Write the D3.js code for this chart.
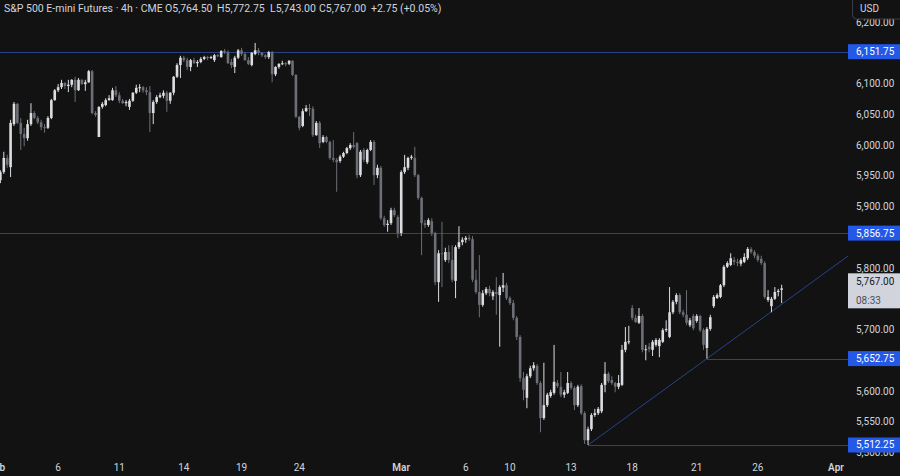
<!DOCTYPE html>
<html><head><meta charset="utf-8">
<script src="https://cdn.jsdelivr.net/npm/d3@7"></script>
<style>html,body{margin:0;padding:0;background:#121212;overflow:hidden}</style>
</head><body><svg id="c" width="900" height="476"></svg>
<script>
// ---- data (4h bars, S&P 500 E-mini futures) ----
const opens=[5938,5943,5956,5979,5964,6034,6067,6036,6018,6011,6034,6052,6044,6037,6029,6028,6044,6073,6089,6094,6101,6096,6098,6106,6089,6106,6099,6102,6120,6052,6013,6062,6065,6073,6073,6089,6081,6072,6068,6062,6072,6085,6093,6094,6089,6086,6052,6070,6078,6080,6085,6072,6085,6111,6130,6142,6138,6127,6138,6133,6135,6140,6143,6142,6138,6146,6143,6153,6151,6135,6127,6142,6154,6148,6138,6130,6148,6154,6150,6146,6143,6151,6115,6127,6132,6133,6132,6137,6114,6046,6031,6055,6060,6059,6016,6036,6005,6013,6005,5979,5976,5974,5981,5987,5995,6000,6003,5951,5992,5972,5992,6005,5951,5963,5881,5870,5873,5894,5883,5857,5956,5963,5979,5979,5951,5914,5873,5870,5876,5857,5777,5824,5813,5826,5813,5779,5834,5842,5846,5849,5847,5781,5761,5740,5759,5766,5754,5761,5756,5768,5772,5751,5743,5719,5688,5621,5589,5624,5637,5641,5613,5556,5577,5592,5597,5613,5607,5594,5597,5613,5605,5577,5608,5564,5520,5538,5561,5564,5567,5610,5628,5618,5613,5607,5610,5667,5680,5735,5719,5711,5722,5667,5672,5667,5675,5673,5680,5699,5688,5728,5745,5756,5728,5724,5707,5722,5714,5722,5699,5670,5701,5738,5751,5753,5772,5802,5805,5813,5810,5807,5810,5816,5831,5826,5820,5815,5808,5748,5738,5750,5761,5764.5];
const highs=[5951,5959,5989,5984,6041,6070,6068,6044,6028,6041,6068,6055,6047,6041,6034,6047,6075,6091,6099,6106,6102,6106,6107,6111,6109,6107,6106,6122,6122,6055,6063,6070,6076,6081,6093,6096,6086,6075,6073,6075,6086,6098,6099,6096,6094,6096,6073,6081,6085,6089,6088,6086,6112,6133,6145,6145,6142,6140,6142,6138,6143,6145,6145,6145,6148,6148,6154,6156,6154,6140,6145,6156,6158,6151,6143,6151,6166,6158,6151,6148,6153,6153,6128,6133,6137,6135,6138,6138,6115,6047,6059,6065,6067,6063,6039,6039,6016,6015,6007,6008,5979,5984,5989,5997,6003,6021,6005,5992,5995,5994,6008,6008,5968,5966,5885,5878,5898,5898,5886,5959,5984,5981,5984,5997,5953,5916,5878,5881,5881,5859,5829,5875,5833,5837,5837,5837,5868,5850,5852,5854,5852,5797,5821,5764,5769,5771,5764,5785,5772,5792,5776,5754,5748,5722,5691,5631,5628,5641,5647,5644,5616,5646,5597,5602,5675,5618,5631,5602,5631,5616,5608,5610,5611,5567,5542,5564,5571,5574,5613,5647,5631,5624,5615,5626,5675,5704,5706,5740,5724,5735,5725,5675,5678,5683,5686,5686,5702,5715,5769,5748,5759,5759,5732,5764,5719,5725,5725,5724,5702,5704,5724,5756,5759,5774,5805,5811,5824,5818,5815,5816,5824,5834,5834,5829,5823,5820,5811,5764,5753,5769,5766,5772.75];
const lows=[5933,5938,5953,5963,5948,6031,6034,5992,5998,6007,6031,6042,6034,6024,6020,6026,6042,6072,6086,6091,6091,6086,6094,6070,6088,6098,6088,6101,6050,6046,6013,6059,6063,6072,6072,6078,6068,6067,6063,6057,6070,6083,6086,6085,6081,6021,6034,6067,6076,6076,6054,6067,6081,6109,6109,6135,6122,6120,6132,6127,6133,6138,6138,6140,6135,6143,6142,6148,6132,6125,6117,6140,6145,6137,6130,6128,6146,6146,6143,6140,6140,6102,6112,6124,6130,6128,6130,6112,6044,6024,6029,6054,6047,6013,6015,5995,6003,6003,5976,5972,5924,5971,5979,5985,5992,5994,5946,5948,5972,5969,5990,5935,5946,5878,5867,5859,5870,5883,5849,5852,5953,5959,5976,5948,5911,5821,5865,5867,5852,5772,5745,5769,5810,5808,5777,5751,5831,5837,5841,5844,5777,5758,5720,5737,5756,5754,5748,5724,5672,5761,5748,5740,5715,5683,5615,5585,5572,5621,5633,5610,5533,5553,5574,5589,5594,5605,5590,5589,5595,5602,5569,5574,5561,5514,5512.25,5535,5558,5561,5564,5598,5613,5610,5598,5603,5608,5663,5676,5715,5711,5709,5663,5650,5663,5657,5672,5655,5678,5696,5686,5725,5741,5725,5720,5707,5704,5699,5711,5696,5667,5652.75,5698,5735,5750,5751,5769,5800,5803,5805,5803,5803,5808,5813,5823,5816,5810,5805,5750,5745,5728,5748,5754,5743];
const closes=[5943,5956,5979,5968,6036,6067,6036,6018,6011,6034,6052,6044,6037,6029,6028,6044,6073,6089,6094,6101,6096,6098,6106,6089,6106,6099,6102,6120,6052,6049,6062,6067,6073,6076,6089,6081,6072,6068,6070,6072,6085,6093,6094,6089,6086,6052,6070,6078,6081,6085,6072,6085,6111,6130,6142,6138,6127,6138,6133,6135,6140,6143,6142,6143,6146,6145,6153,6151,6133,6130,6142,6154,6148,6138,6132,6150,6154,6150,6146,6143,6151,6115,6127,6132,6133,6132,6137,6114,6046,6028,6055,6060,6059,6016,6036,6003,6013,6005,5979,5976,5972,5981,5987,5995,6000,5997,5951,5989,5976,5992,6005,5951,5963,5881,5870,5872,5894,5886,5857,5956,5964,5979,5981,5951,5914,5873,5870,5878,5857,5777,5824,5823,5826,5813,5781,5834,5842,5846,5849,5847,5781,5761,5740,5759,5766,5759,5761,5758,5769,5772,5751,5743,5719,5688,5621,5602,5624,5637,5642,5613,5556,5577,5594,5598,5615,5608,5594,5598,5613,5605,5577,5607,5564,5520,5538,5561,5564,5571,5610,5628,5616,5613,5607,5613,5667,5680,5681,5719,5712,5722,5667,5668,5668,5680,5683,5683,5699,5701,5728,5745,5756,5728,5724,5711,5715,5702,5722,5699,5675,5701,5720,5753,5756,5772,5802,5808,5816,5810,5808,5813,5818,5831,5826,5820,5813,5808,5753,5753,5750,5761,5763,5767];

const tickBars=[0,18,36,55,72,89,119,138,151,169,187,206,224,247];
const tickLabels=["Feb","6","11","14","19","24","Mar","6","10","13","18","21","26","Apr"];
const priceTicks=d3.range(5500,6201,50);
const levelPrices=[6151.75,5856.75,5652.75,5512.25];
const levelStartBars=[-5,-5,209,174];
const trendBars=[174,209];
const trendPrices=[5512.25,5652.75];
const lastCountdown="08:33";
const headerTitle="S&P 500 E-mini Futures · 4h · CME";
const headerParts=["O5,764.50","H5,772.75","L5,743.00","C5,767.00","+2.75 (+0.05%)"];

// ---- drawing ----
const W=900,H=476,plotR=848,plotB=458;
const BG="#121212",UP="#dcdde1",DOWN="#6c6f76",LINE="#2a4288",TXT="#d1d4dc",FONT="Roboto, 'Noto Sans', sans-serif";
const x=d3.scaleLinear().domain([0,247]).range([-3,836]);
const y=d3.scaleLinear().domain([5491.1,6235.8]).range([plotB,0]);
const svg=d3.select("#c");
svg.append("rect").attr("width",W).attr("height",H).attr("fill",BG);
const defs=svg.append("defs");
defs.append("clipPath").attr("id","clip").append("rect").attr("x",0).attr("y",0).attr("width",plotR).attr("height",plotB);
defs.append("clipPath").attr("id","axclip").append("rect").attr("x",plotR).attr("y",19).attr("width",W-plotR).attr("height",plotB-19);
const g=svg.append("g").attr("clip-path","url(#clip)");

// horizontal levels
levelPrices.forEach((p,k)=>{
  g.append("line").attr("x1",x(levelStartBars[k])).attr("x2",plotR)
   .attr("y1",Math.round(y(p))+0.5).attr("y2",Math.round(y(p))+0.5)
   .attr("stroke",LINE).attr("stroke-width",1);
});
// trendline extended to right edge
const slope=(trendPrices[1]-trendPrices[0])/(trendBars[1]-trendBars[0]);
const endBar=x.invert(plotR);
g.append("line").attr("x1",x(trendBars[0])).attr("y1",y(trendPrices[0]))
 .attr("x2",plotR).attr("y2",y(trendPrices[0]+slope*(endBar-trendBars[0])))
 .attr("stroke",LINE).attr("stroke-width",1);

// candles
const data=closes.map((c,i)=>({i,o:opens[i],h:highs[i],l:lows[i],c}));
const cg=g.append("g");
cg.selectAll("line.w").data(data).join("line").attr("class","w")
  .attr("x1",d=>x(d.i)).attr("x2",d=>x(d.i))
  .attr("y1",d=>y(d.h)).attr("y2",d=>y(d.l))
  .attr("stroke",d=>d.c>=d.o?UP:DOWN).attr("stroke-width",1);
cg.selectAll("rect.b").data(data).join("rect").attr("class","b")
  .attr("x",d=>x(d.i)-1.3).attr("width",2.6)
  .attr("y",d=>y(Math.max(d.o,d.c)))
  .attr("height",d=>Math.max(1,Math.abs(y(d.o)-y(d.c))))
  .attr("fill",d=>d.c>=d.o?UP:DOWN);

// price axis (ticks hidden by a label box are skipped, as on the reference)
const fmt=d3.format(",.2f");
const last=closes[closes.length-1];
const covered=p=>levelPrices.some(l=>Math.abs(y(l)-y(p))<5.5)||(y(p)>y(last)-15&&y(p)<y(last)+20);
svg.append("g").attr("clip-path","url(#axclip)").selectAll("text").data(priceTicks.filter(p=>!covered(p))).join("text")
  .attr("x",856).attr("y",d=>y(d)+3.5).attr("fill",TXT)
  .attr("font-family",FONT).attr("font-size",10).text(d=>fmt(d));
// level labels
const lg=svg.append("g");
levelPrices.forEach(p=>{
  lg.append("rect").attr("x",848).attr("y",y(p)-7.5).attr("width",52).attr("height",15).attr("fill","#2458e6");
  lg.append("text").attr("x",856).attr("y",y(p)+3.5).attr("fill","#ffffff")
    .attr("font-family",FONT).attr("font-size",10).text(fmt(p));
});
// last price label
lg.append("rect").attr("x",848).attr("y",y(last)-15).attr("width",52).attr("height",35).attr("fill","#d1d4dc");
lg.append("text").attr("x",856).attr("y",y(last)-3).attr("fill","#131722")
  .attr("font-family",FONT).attr("font-size",10).text(fmt(last));
lg.append("text").attr("x",856).attr("y",y(last)+16).attr("fill","#4a4e59")
  .attr("font-family",FONT).attr("font-size",10).text(lastCountdown);

// USD box
svg.append("rect").attr("x",852.5).attr("y",-6).attr("width",60).attr("height",25).attr("rx",4)
  .attr("fill",BG).attr("stroke","#3a3d45");
svg.append("text").attr("x",860).attr("y",12).attr("fill",TXT).attr("font-family",FONT)
  .attr("font-size",10).text("USD");

// time axis
svg.append("g").selectAll("text").data(tickBars).join("text")
  .attr("x",d=>x(d)).attr("y",471).attr("text-anchor","middle").attr("fill",TXT)
  .attr("font-family",FONT).attr("font-size",10)
  .attr("font-weight",(d,i)=>isNaN(+tickLabels[i])?600:400)
  .text((d,i)=>tickLabels[i]);

// header
svg.append("text").attr("x",4).attr("y",12).attr("fill",TXT).attr("font-family",FONT)
  .attr("font-size",10.5).text(headerTitle);
const hx=[165,217,270,319,371];
headerParts.forEach((t,i)=>{
  svg.append("text").attr("x",hx[i]).attr("y",12).attr("fill",TXT).attr("font-family",FONT)
    .attr("font-size",10.5).text(t);
});
</script></body></html>
